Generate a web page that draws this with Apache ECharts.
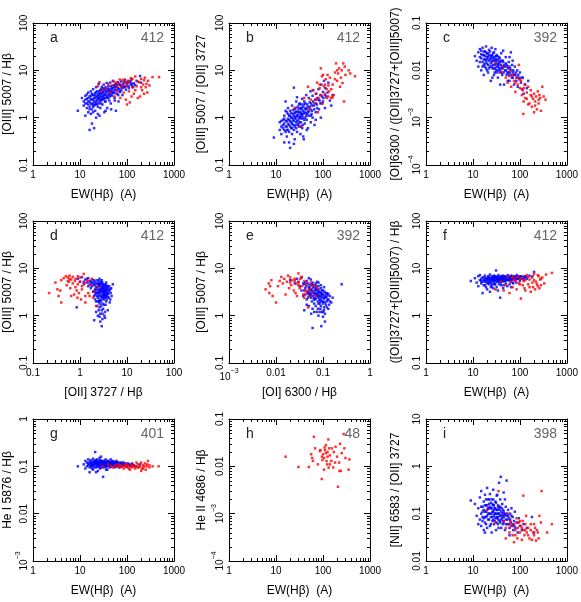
<!DOCTYPE html>
<html><head><meta charset="utf-8">
<script src="https://cdn.jsdelivr.net/npm/echarts@6/dist/echarts.min.js"></script>
<style>html,body{margin:0;padding:0;background:#fff}#c{width:581px;height:602px}</style>
</head><body><div id="c"></div>
<script>
// ---------- data (x, y) ----------
const aBlue=[[9,1.4],[11,2.6],[12,1.8],[12,2.2],[13,1.1],[13,2.9],[13,2.4],[14,1.6],[14,3.1],[14,2.0],[15,1.3],[15,2.6],[15,1.9],[15,3.4],[16,0.55],[16,2.2],[16,1.7],[17,2.9],[17,1.2],[17,3.6],[18,2.4],[18,1.5],[18,0.75],[19,3.0],[19,2.0],[19,4.0],[20,0.6],[20,2.6],[20,1.8],[21,3.3],[21,1.4],[22,2.2],[22,4.4],[22,2.9],[23,1.9],[23,3.6],[24,2.5],[24,1.2],[25,3.1],[25,5.2],[25,2.0],[26,2.7],[27,3.8],[27,1.6],[28,2.3],[28,3.2],[29,4.5],[30,2.8],[30,1.9],[31,3.5],[32,2.5],[32,5.0],[33,1.3],[34,3.0],[34,4.0],[35,2.2],[36,3.4],[37,5.4],[38,2.7],[38,1.6],[40,3.8],[40,4.6],[42,3.1],[42,2.3],[44,5.5],[45,3.6],[46,1.5],[48,4.2],[48,2.9],[50,3.3],[50,6.0],[52,4.8],[54,2.6],[55,3.9],[57,5.2],[58,1.4],[60,4.4],[62,3.2],[64,5.6],[66,2.2],[68,4.0],[70,4.9],[72,3.5],[75,5.8],[78,4.4],[80,3.0],[84,5.1],[88,4.6],[90,6.2],[95,3.9],[98,5.4],[100,4.8],[105,6.0],[110,4.2],[115,5.6],[120,5.0],[125,6.4],[130,4.6],[140,5.3],[150,4.9],[160,6.0],[190,7.6],[200,5.5],[45,2.0],[35,1.4],[26,1.1],[55,2.3],[65,3.0],[22,1.0],[19,1.3],
[13,2.0],[14,2.5],[15,2.2],[16,2.8],[16,1.5],[17,2.0],[17,2.5],[18,3.2],[18,1.9],[19,2.4],[19,1.7],[20,3.0],[20,2.2],[21,2.6],[21,1.9],[22,3.4],[22,2.0],[23,2.7],[23,2.3],[24,3.0],[24,1.7],[25,2.6],[25,3.6],[26,2.2],[26,3.3],[27,2.9],[27,2.4],[28,4.0],[28,2.0],[29,2.6],[29,3.4],[30,3.8],[30,2.4],[31,2.9],[31,4.2],[32,3.2],[33,2.6],[33,3.7],[34,2.2],[35,4.4],[35,3.0],[36,2.6],[37,3.6],[38,4.1],[39,3.0],[40,2.6],[41,3.4],[42,4.0],[43,2.8],[44,3.6],[45,4.6],[46,3.1],[47,4.0],[48,3.5],[50,4.2],[52,3.6],[53,4.6],[55,3.3],[56,4.4],[58,5.0],[60,3.8],[62,4.8],[65,4.2],[68,5.2],[70,3.6],[74,4.8],[76,3.9],[82,4.3],[86,5.6],[92,4.4],[100,5.4],[108,4.6],[118,5.8],[128,5.2],[135,4.4]];
const aRed=[[24,4.6],[26,5.6],[30,3.8],[35,4.2],[40,5.2],[45,3.4],[48,4.8],[52,5.8],[55,2.8],[60,4.6],[62,3.6],[65,5.2],[70,6.4],[72,2.6],[75,4.4],[80,5.0],[85,3.4],[90,6.4],[95,2.4],[98,4.6],[100,1.9],[105,5.4],[110,3.6],[120,6.8],[125,2.8],[130,4.4],[140,3.2],[150,7.4],[160,4.6],[170,2.6],[180,5.6],[200,6.6],[210,3.8],[220,5.0],[240,7.0],[250,4.4],[270,3.4],[280,6.0],[300,4.8],[350,7.2],[480,7.2],[230,6.2],[190,2.8],[115,2.1],[60,5.6],[80,6.2],[110,5.8],[130,6.6],[170,5.8],[200,4.4],[260,5.2],[230,3.2],[150,3.8],[95,5.6]];

const bBlue=[[9,0.38],[12,0.55],[12,0.8],[13,0.65],[13,0.45],[14,0.9],[14,0.6],[15,0.3],[15,0.75],[15,1.1],[16,0.5],[16,0.85],[16,2.2],[17,0.65],[17,1.3],[17,0.4],[18,0.95],[18,0.55],[18,1.6],[19,0.7],[19,1.1],[20,0.23],[20,0.85],[20,1.4],[21,0.6],[21,1.0],[22,0.45],[22,1.8],[22,0.75],[23,1.2],[23,0.9],[24,4.3],[24,0.55],[25,1.5],[25,1.0],[26,0.7],[26,1.3],[27,2.2],[27,0.8],[28,1.1],[28,0.5],[29,1.7],[30,0.9],[30,1.3],[31,0.65],[32,2.0],[32,1.0],[33,0.45],[34,1.5],[34,0.8],[35,1.2],[36,2.5],[36,0.6],[37,1.0],[38,1.7],[39,0.35],[40,1.3],[40,2.2],[41,0.75],[42,1.0],[43,1.6],[44,3.0],[45,0.9],[46,1.9],[47,1.3],[48,0.6],[50,2.6],[50,1.1],[52,1.7],[54,3.6],[55,0.8],[56,2.0],[58,1.4],[60,2.9],[60,1.0],[62,3.8],[64,1.8],[66,0.7],[68,2.4],[70,1.3],[72,3.2],[74,1.9],[76,2.6],[80,4.0],[82,1.5],[85,2.3],[88,3.0],[90,1.0],[92,5.0],[95,2.0],[100,3.5],[102,2.6],[105,6.0],[110,1.6],[112,4.2],[118,2.8],[125,3.4],[130,5.5],[140,2.3],[150,1.8],[160,3.0],[25,0.35],[19,0.3],[45,0.55],[70,0.9],[35,1.9],[28,2.7],[57,1.2],[16,1.4],[24,0.28],[38,0.4],
[13,0.85],[14,0.7],[15,0.55],[15,0.95],[16,0.65],[17,0.85],[17,0.55],[18,0.75],[18,1.2],[19,0.9],[19,0.5],[20,0.65],[20,1.1],[21,0.8],[21,1.25],[22,0.6],[22,1.0],[23,0.7],[23,1.45],[24,0.85],[24,1.1],[25,0.65],[25,1.25],[26,0.95],[26,1.6],[27,1.05],[27,0.6],[28,1.35],[28,0.85],[29,0.7],[29,1.15],[30,1.5],[30,0.75],[31,1.0],[31,1.9],[32,0.8],[32,1.3],[33,1.1],[33,1.6],[34,0.65],[34,1.25],[35,0.95],[35,1.6],[36,1.1],[37,1.4],[37,0.7],[38,1.2],[39,1.9],[40,0.9],[41,1.5],[42,1.25],[42,2.0],[44,1.1],[45,1.5],[46,1.2],[48,1.7],[50,1.35],[52,2.1],[54,1.5],[56,1.1],[58,1.8],[62,2.2],[65,1.5],[70,2.0],[75,1.6],[80,2.4],[88,2.0],[95,2.8],[100,2.2],[110,3.0]];
const bRed=[[25,1.6],[33,0.65],[40,2.6],[48,4.5],[50,1.5],[55,2.4],[60,3.8],[65,2.0],[70,3.2],[75,5.5],[78,1.3],[80,2.6],[85,4.2],[90,11],[92,3.0],[95,7.5],[98,2.0],[100,8.0],[105,4.6],[110,3.2],[115,6.5],[120,2.6],[125,8.0],[130,4.8],[135,3.6],[140,7.0],[150,2.6],[160,5.0],[170,3.0],[180,9.0],[190,14],[200,6.0],[210,8.6],[220,11],[230,4.5],[250,10],[270,14],[280,2.2],[290,12],[350,10],[380,8.6],[480,7.5],[260,5.4],[160,2.7],[70,2.4],[85,5.0],[110,5.0],[130,2.8],[150,4.0],[200,10],[240,7.0],[300,8.0],[120,4.0],[180,6.5]];

const cBlue=[[11,0.02],[12,0.016],[13,0.024],[13,0.012],[14,0.019],[14,0.028],[15,0.01],[15,0.022],[16,0.015],[16,0.03],[17,0.013],[17,0.021],[17,0.008],[18,0.025],[18,0.017],[19,0.011],[19,0.032],[20,0.019],[20,0.014],[21,0.023],[21,0.009],[22,0.016],[22,0.027],[23,0.012],[24,0.02],[24,0.006],[25,0.015],[25,0.03],[26,0.011],[27,0.018],[28,0.024],[28,0.008],[29,0.013],[30,0.017],[31,0.01],[32,0.021],[33,0.014],[34,0.007],[35,0.012],[36,0.019],[37,0.009],[38,0.015],[40,0.011],[40,0.023],[42,0.008],[43,0.016],[45,0.012],[46,0.005],[48,0.01],[50,0.014],[50,0.019],[52,0.008],[54,0.012],[56,0.009],[58,0.015],[60,0.006],[62,0.011],[64,0.024],[66,0.008],[68,0.013],[70,0.007],[72,0.01],[75,0.005],[78,0.012],[80,0.008],[84,0.006],[88,0.01],[90,0.0045],[95,0.007],[100,0.009],[105,0.0055],[110,0.004],[115,0.007],[120,0.0032],[130,0.005],[140,0.0042],[150,0.006],[44,0.026],[33,0.02],[26,0.007],[55,0.006],[38,0.005],[20,0.01],[30,0.028],[70,0.016],[18,0.012],[60,0.019],
[14,0.015],[15,0.018],[15,0.026],[16,0.021],[16,0.012],[17,0.017],[17,0.025],[18,0.014],[18,0.02],[19,0.016],[19,0.024],[20,0.022],[20,0.017],[21,0.013],[21,0.019],[22,0.021],[22,0.011],[23,0.017],[23,0.025],[24,0.014],[24,0.018],[25,0.012],[25,0.021],[26,0.016],[26,0.02],[27,0.013],[27,0.023],[28,0.011],[28,0.016],[29,0.019],[29,0.009],[30,0.014],[30,0.011],[31,0.016],[31,0.02],[32,0.012],[32,0.009],[33,0.017],[34,0.013],[34,0.01],[35,0.016],[36,0.011],[36,0.014],[37,0.018],[38,0.01],[39,0.013],[40,0.016],[41,0.009],[42,0.012],[43,0.011],[44,0.015],[45,0.009],[46,0.013],[48,0.012],[50,0.01],[52,0.013],[54,0.009],[56,0.011],[58,0.008],[60,0.012],[62,0.009],[65,0.01],[68,0.007],[72,0.009],[76,0.008],[82,0.009],[86,0.007],[92,0.008],[98,0.0065],[108,0.007]];
const cRed=[[30,0.014],[40,0.009],[45,0.012],[50,0.007],[55,0.0055],[60,0.01],[65,0.0045],[70,0.008],[75,0.006],[80,0.0035],[85,0.007],[90,0.005],[95,0.013],[100,0.0042],[105,0.006],[110,0.003],[115,0.0038],[118,0.0012],[125,0.005],[130,0.0026],[140,0.0034],[150,0.0045],[160,0.002],[170,0.003],[180,0.0017],[190,0.0025],[200,0.0032],[210,0.0022],[220,0.0028],[230,0.0015],[240,0.0036],[250,0.002],[270,0.0026],[280,0.0014],[300,0.0045],[350,0.0024],[200,0.0013],[150,0.0019],[260,0.003],[120,0.0022],[60,0.0075],[80,0.0055],[100,0.0065],[120,0.0042],[140,0.0025],[170,0.0038],[210,0.0018],[250,0.0024],[320,0.0028],[180,0.0028]];

const dBlue=[[0.85,1.5],[0.9,6.0],[1.0,5.2],[1.1,6.5],[1.2,4.6],[1.3,5.8],[1.4,5.0],[1.5,4.2],[1.5,6.2],[1.6,5.4],[1.7,3.8],[1.8,4.8],[1.8,5.8],[1.9,3.2],[2.0,4.4],[2.0,2.6],[2.0,0.8],[2.1,5.2],[2.1,3.6],[2.2,2.0],[2.2,4.0],[2.3,3.0],[2.3,1.6],[2.4,4.6],[2.4,2.4],[2.5,3.4],[2.5,1.3],[2.5,5.4],[2.6,2.8],[2.6,4.2],[2.7,2.0],[2.7,3.6],[2.7,1.1],[2.8,4.8],[2.8,2.5],[2.9,3.2],[2.9,0.6],[3.0,3.9],[3.0,1.8],[3.0,2.7],[3.1,4.4],[3.1,1.4],[3.2,3.0],[3.2,2.2],[3.3,3.7],[3.3,1.0],[3.4,2.6],[3.4,4.6],[3.5,3.2],[3.5,1.7],[3.6,2.0],[3.7,3.8],[3.8,2.8],[3.9,1.3],[4.0,3.4],[4.1,2.4],[4.2,4.2],[4.3,1.9],[4.5,3.0],[4.7,2.6],[5.0,4.6],[4.6,3.8],[3.6,5.0],[2.6,6.0],[2.9,5.6],[2.4,3.0],[2.8,3.7],[3.2,3.4],[3.0,0.85],[2.2,1.2],[2.6,1.5],[3.5,2.4],[2.3,4.8],[1.9,5.0],[3.9,3.0],[2.1,2.8],[2.7,4.4],[3.1,2.9],[2.5,2.0],[3.4,1.2],[4.4,2.2],[1.6,4.6],[2.0,3.3],[3.8,4.2],[2.4,1.0],
[2.2,3.4],[2.3,4.0],[2.4,3.6],[2.5,4.2],[2.5,2.6],[2.6,3.2],[2.6,2.2],[2.7,3.0],[2.7,4.8],[2.8,3.3],[2.8,2.1],[2.9,4.0],[2.9,2.6],[3.0,3.4],[3.0,2.3],[3.0,4.6],[3.1,3.6],[3.1,2.5],[3.2,4.0],[3.2,2.7],[3.2,1.7],[3.3,3.2],[3.3,2.4],[3.4,3.5],[3.4,2.9],[3.5,4.0],[3.5,2.7],[3.6,3.4],[3.6,2.6],[3.7,3.0],[3.7,2.2],[3.8,3.6],[3.9,2.5],[4.0,3.9],[4.0,2.9],[4.2,3.3],[4.4,3.6],[2.4,2.0],[2.6,1.8],[2.8,1.6],[2.9,1.3],[3.0,1.1],[2.6,0.95],[2.7,0.75],[3.4,0.9],[2.3,2.6],[2.1,4.6],[2.0,5.6],[1.8,4.2],[1.7,5.2],[2.3,5.6],[2.5,4.8],[3.0,5.0],[3.3,4.4],[2.8,5.2],[3.6,4.4],[1.4,6.0],[1.2,5.2],[2.2,3.0],[2.1,2.2]];
const dRed=[[0.22,3.0],[0.3,5.0],[0.33,3.6],[0.38,3.4],[0.4,1.9],[0.4,5.6],[0.45,6.2],[0.5,6.8],[0.52,4.4],[0.55,6.4],[0.58,5.2],[0.6,7.0],[0.62,3.8],[0.65,5.8],[0.7,4.8],[0.7,6.6],[0.75,2.8],[0.78,5.4],[0.8,6.0],[0.85,3.4],[0.88,2.4],[0.9,4.6],[0.95,3.0],[1.0,6.4],[1.05,2.2],[1.1,3.6],[1.2,7.6],[1.25,4.8],[1.3,2.6],[1.4,5.6],[1.5,3.0],[1.6,2.6],[1.7,4.4],[1.8,6.0],[2.0,3.2],[2.2,1.6],[2.4,4.0],[1.3,1.9],[0.65,2.6],[1.0,5.2],[0.35,2.6],[0.6,6.0],[0.9,6.8],[1.1,4.2],[1.5,5.2],[1.9,2.4],[0.55,5.4],[0.8,4.0]];

const eBlue=[[0.02,5.6],[0.025,4.8],[0.028,6.0],[0.03,5.2],[0.032,4.2],[0.035,3.4],[0.035,6.4],[0.038,2.6],[0.04,4.6],[0.04,1.3],[0.042,3.8],[0.045,5.4],[0.045,2.2],[0.048,3.0],[0.05,4.0],[0.05,1.6],[0.052,2.6],[0.055,3.4],[0.055,5.8],[0.058,2.0],[0.06,4.4],[0.06,0.55],[0.062,3.0],[0.065,2.4],[0.065,1.2],[0.068,3.8],[0.07,4.8],[0.07,1.6],[0.072,2.8],[0.075,3.4],[0.078,2.0],[0.08,4.2],[0.08,1.0],[0.082,2.6],[0.085,3.2],[0.088,1.4],[0.09,2.2],[0.09,3.8],[0.092,0.6],[0.095,2.8],[0.1,3.4],[0.1,1.2],[0.102,2.0],[0.105,4.0],[0.11,2.6],[0.11,0.75],[0.115,1.7],[0.12,3.0],[0.125,2.2],[0.13,1.4],[0.14,2.6],[0.15,1.9],[0.16,2.4],[0.25,4.6],[0.075,5.2],[0.058,4.6],[0.085,1.8],[0.095,1.2],[0.052,3.8],[0.068,2.2],[0.06,1.4],[0.045,1.7],[0.118,2.5],[0.105,1.5],[0.038,4.8],[0.074,1.2],[0.088,3.0],[0.048,2.4],[0.13,2.9],[0.066,3.3],[0.08,2.4],[0.056,1.1],[0.1,2.4],[0.05,6.2],[0.042,5.0],
[0.04,3.4],[0.042,2.8],[0.044,4.2],[0.046,3.2],[0.048,4.8],[0.05,2.9],[0.052,4.4],[0.054,3.0],[0.056,2.4],[0.058,3.6],[0.06,2.6],[0.06,3.3],[0.062,4.0],[0.064,2.2],[0.066,2.8],[0.068,3.0],[0.07,3.6],[0.07,2.3],[0.072,4.2],[0.074,2.6],[0.076,3.0],[0.078,2.8],[0.08,3.6],[0.08,1.8],[0.082,3.2],[0.084,2.2],[0.086,2.6],[0.088,2.0],[0.09,3.0],[0.09,1.6],[0.092,2.5],[0.095,3.4],[0.095,2.0],[0.098,2.7],[0.1,1.8],[0.1,2.9],[0.105,2.3],[0.108,3.2],[0.11,1.9],[0.112,2.4],[0.115,2.9],[0.12,2.0],[0.12,1.5],[0.125,2.7],[0.13,2.2],[0.135,1.7],[0.14,2.0],[0.085,1.2],[0.078,1.4],[0.1,0.95],[0.065,1.8],[0.055,2.8],[0.05,3.4],[0.06,5.0],[0.066,4.4],[0.072,3.6],[0.08,5.0],[0.09,4.4],[0.105,1.3],[0.11,1.1]];
const eRed=[[0.006,3.6],[0.007,4.8],[0.0072,3.0],[0.0075,4.2],[0.008,5.6],[0.0085,2.6],[0.01,1.9],[0.012,5.4],[0.013,6.6],[0.014,4.8],[0.015,6.0],[0.016,2.8],[0.017,5.2],[0.018,7.0],[0.019,3.8],[0.02,6.4],[0.021,4.4],[0.022,5.6],[0.024,3.4],[0.025,6.0],[0.027,4.8],[0.028,2.6],[0.03,7.8],[0.03,5.0],[0.032,3.8],[0.035,6.6],[0.036,4.2],[0.038,2.8],[0.04,5.4],[0.042,3.4],[0.045,4.6],[0.048,1.5],[0.05,3.6],[0.055,5.0],[0.06,3.2],[0.065,4.4],[0.07,2.6],[0.075,3.8],[0.05,2.6],[0.026,3.0],[0.011,4.2],[0.02,5.0],[0.03,4.4],[0.033,6.0],[0.045,3.0],[0.058,4.2],[0.04,2.4],[0.025,5.4]];

const fBlue=[[9,5.4],[11,6.2],[12,5.0],[13,6.8],[13,4.2],[14,5.6],[14,7.2],[15,4.8],[15,6.0],[16,5.2],[16,3.0],[17,6.4],[17,4.4],[18,5.8],[18,7.0],[19,4.0],[19,5.4],[20,6.2],[20,3.6],[21,5.0],[21,6.8],[22,4.6],[22,5.8],[23,7.4],[23,3.2],[24,5.2],[25,6.4],[25,4.2],[26,5.6],[27,6.0],[27,3.8],[28,5.0],[28,7.0],[29,4.6],[30,6.2],[30,5.4],[31,9.0],[32,4.0],[32,6.6],[33,5.8],[34,3.4],[35,5.2],[35,7.2],[36,4.6],[37,6.0],[38,2.4],[38,5.6],[40,6.6],[40,4.4],[42,5.2],[43,7.0],[44,3.8],[45,6.2],[46,5.4],[48,6.8],[50,4.8],[50,5.8],[52,6.4],[54,4.2],[55,7.2],[57,5.6],[58,6.0],[60,4.6],[62,6.6],[64,5.2],[66,7.0],[68,5.8],[70,6.2],[72,4.8],[75,6.8],[78,5.6],[80,6.4],[84,5.0],[86,7.2],[90,6.0],[95,6.6],[100,5.4],[105,6.8],[110,6.2],[120,5.8],[130,6.6],[140,6.0],[160,7.0],[200,8.4],[185,6.8],[26,6.8],[18,4.4],[45,4.4],[34,6.6],[65,4.0],[24,4.0],[29,6.6],[41,5.8],[70,5.0],
[15,5.4],[16,6.4],[17,5.6],[18,5.2],[19,6.2],[20,5.6],[20,4.8],[21,6.0],[22,5.2],[22,6.6],[23,5.8],[24,6.2],[24,4.8],[25,5.6],[26,6.2],[26,4.6],[27,5.4],[28,6.2],[29,5.6],[30,4.6],[30,6.8],[31,5.8],[32,5.2],[33,6.4],[34,5.6],[35,6.0],[36,5.4],[37,6.6],[38,6.2],[39,5.0],[40,5.8],[41,6.8],[42,6.2],[44,5.6],[45,6.8],[46,6.0],[48,5.4],[50,6.4],[52,5.6],[54,6.6],[55,5.8],[58,6.6],[60,5.6],[62,6.0],[64,6.8],[66,5.8],[70,6.6],[72,6.0],[76,6.4],[80,5.8],[84,6.8],[88,6.0],[92,6.6],[96,6.2],[100,6.8],[105,6.0],[112,6.6],[118,6.2],[125,6.8],[135,6.4]];
const fRed=[[30,3.6],[40,5.2],[45,3.4],[50,4.4],[55,6.6],[60,3.0],[65,5.2],[70,4.0],[75,6.0],[80,5.4],[85,3.6],[90,6.6],[95,4.8],[100,5.8],[105,2.3],[110,6.2],[115,4.4],[120,5.4],[130,3.4],[140,7.2],[150,4.6],[160,5.8],[170,3.2],[180,6.4],[190,4.0],[200,7.6],[210,3.6],[220,5.2],[230,4.6],[250,6.8],[260,3.8],[270,5.8],[280,4.4],[300,6.4],[360,7.4],[480,8.0],[240,7.2],[150,6.6],[125,3.8],[185,5.0],[70,6.6],[100,4.6],[130,5.6],[160,4.0],[200,5.6],[240,4.2],[280,6.0],[330,4.8]];

const gBlue=[[9,0.1],[12,0.11],[13,0.13],[13,0.09],[14,0.12],[14,0.1],[15,0.14],[15,0.115],[16,0.095],[16,0.125],[16,0.075],[17,0.11],[17,0.135],[18,0.1],[18,0.12],[19,0.085],[19,0.145],[20,0.115],[20,0.105],[21,0.2],[21,0.13],[22,0.095],[22,0.12],[23,0.11],[23,0.14],[24,0.1],[24,0.08],[25,0.125],[25,0.115],[26,0.105],[27,0.135],[27,0.09],[28,0.12],[28,0.11],[29,0.1],[30,0.13],[30,0.115],[31,0.06],[32,0.105],[32,0.125],[33,0.095],[34,0.12],[35,0.11],[35,0.14],[36,0.1],[37,0.125],[38,0.085],[38,0.115],[40,0.105],[40,0.13],[42,0.12],[43,0.095],[44,0.11],[45,0.125],[46,0.1],[48,0.115],[50,0.105],[50,0.13],[52,0.12],[54,0.095],[55,0.11],[57,0.125],[58,0.1],[60,0.115],[62,0.105],[64,0.12],[66,0.11],[68,0.095],[70,0.12],[72,0.105],[75,0.115],[78,0.1],[80,0.11],[85,0.12],[90,0.105],[95,0.115],[100,0.1],[110,0.11],[120,0.105],[130,0.115],[150,0.1],[190,0.11],[18,0.09],[26,0.15],[45,0.14],[22,0.075],[36,0.085],[60,0.13],[28,0.16],[17,0.1],
[15,0.105],[16,0.11],[17,0.12],[18,0.11],[19,0.125],[19,0.105],[20,0.13],[20,0.095],[21,0.115],[22,0.11],[22,0.135],[23,0.1],[23,0.125],[24,0.115],[24,0.13],[25,0.105],[26,0.12],[26,0.095],[27,0.115],[28,0.1],[28,0.13],[29,0.12],[30,0.105],[30,0.095],[31,0.12],[32,0.115],[33,0.13],[34,0.105],[35,0.1],[36,0.12],[37,0.11],[38,0.13],[39,0.1],[40,0.115],[41,0.125],[42,0.105],[44,0.12],[45,0.1],[46,0.115],[48,0.125],[50,0.11],[52,0.105],[54,0.12],[56,0.115],[58,0.11],[60,0.1],[63,0.12],[66,0.105],[70,0.11],[74,0.1],[78,0.12],[82,0.105],[88,0.11],[94,0.1],[105,0.115],[115,0.1],[125,0.11],[140,0.105]];
const gRed=[[30,0.1],[40,0.11],[50,0.095],[55,0.105],[60,0.1],[65,0.11],[70,0.095],[75,0.105],[80,0.1],[85,0.09],[90,0.11],[95,0.1],[100,0.095],[105,0.105],[110,0.09],[120,0.1],[125,0.11],[130,0.095],[140,0.105],[150,0.09],[160,0.1],[170,0.11],[180,0.095],[190,0.1],[200,0.12],[210,0.09],[220,0.105],[230,0.1],[250,0.085],[270,0.11],[280,0.13],[300,0.095],[470,0.1],[240,0.115],[115,0.085],[160,0.12],[350,0.1],[200,0.08],[45,0.1],[70,0.105],[100,0.11],[130,0.1],[170,0.095],[220,0.09],[260,0.1],[300,0.105]];

const hBlue=[];
const hRed=[[16,0.016],[30,0.0097],[50,0.0097],[64,0.042],[68,0.024],[56,0.018],[59,0.015],[61,0.013],[78,0.011],[86,0.021],[94,0.0054],[88,0.022],[97,0.0136],[100,0.018],[105,0.0085],[108,0.025],[115,0.019],[119,0.013],[125,0.016],[132,0.0094],[135,0.024],[130,0.037],[122,0.011],[140,0.011],[155,0.024],[165,0.0095],[180,0.012],[185,0.026],[208,0.0037],[220,0.012],[225,0.008],[230,0.03],[240,0.008],[250,0.019],[275,0.048],[285,0.024],[300,0.015],[350,0.0085],[365,0.014],[105,0.015],[125,0.02],[140,0.017],[95,0.016],[170,0.02],[115,0.028],[200,0.016],[150,0.013],[110,0.022]];

const iBlue=[[9,0.19],[11,0.16],[12,0.09],[13,0.06],[13,0.13],[14,0.22],[14,0.075],[15,0.1],[15,0.3],[15,0.055],[16,0.14],[16,0.07],[17,0.18],[17,0.045],[18,0.11],[18,0.25],[18,0.065],[19,0.15],[19,0.085],[20,0.35],[20,0.12],[20,0.05],[21,0.2],[21,0.075],[22,0.1],[22,0.16],[23,0.055],[23,0.26],[24,0.13],[24,0.085],[25,0.2],[25,0.04],[26,0.11],[26,0.07],[27,0.15],[27,0.32],[28,0.09],[28,0.06],[29,0.13],[30,0.18],[30,0.1],[31,0.045],[32,0.12],[32,0.24],[33,0.08],[34,0.15],[34,0.06],[35,0.1],[36,0.45],[36,0.13],[37,0.07],[38,0.2],[38,0.09],[39,0.6],[40,0.11],[40,0.05],[42,0.16],[42,0.08],[44,0.12],[45,0.28],[45,0.065],[47,0.1],[48,0.045],[50,0.14],[50,0.075],[52,0.5],[53,0.09],[55,0.06],[56,0.12],[58,0.08],[60,0.05],[62,0.1],[64,0.065],[66,0.13],[68,0.055],[70,0.085],[72,0.045],[75,0.07],[78,0.11],[80,0.05],[85,0.065],[90,0.04],[95,0.08],[100,0.055],[110,0.045],[120,0.06],[140,0.05],[180,0.085],[200,0.04],[16,0.085],[22,0.13],[29,0.07],[35,0.05],[44,0.09],[27,0.11],[19,0.06],[33,0.25],[60,0.035],[48,0.2],[18,0.04],
[15,0.14],[16,0.11],[17,0.08],[17,0.12],[18,0.085],[18,0.15],[19,0.11],[19,0.2],[20,0.09],[20,0.15],[21,0.13],[21,0.1],[22,0.075],[22,0.2],[23,0.1],[23,0.14],[24,0.17],[24,0.06],[25,0.1],[25,0.13],[26,0.085],[26,0.16],[27,0.075],[27,0.2],[28,0.12],[28,0.15],[29,0.1],[30,0.08],[30,0.13],[31,0.1],[31,0.17],[32,0.085],[32,0.065],[33,0.12],[34,0.1],[34,0.085],[35,0.14],[35,0.075],[36,0.1],[37,0.12],[38,0.065],[38,0.14],[39,0.09],[40,0.075],[41,0.13],[42,0.1],[43,0.06],[44,0.07],[45,0.11],[46,0.085],[48,0.095],[50,0.06],[52,0.1],[54,0.075],[56,0.09],[58,0.06],[62,0.075],[66,0.09],[70,0.06],[76,0.055]];
const iRed=[[20,0.12],[30,0.065],[35,0.3],[45,0.07],[50,0.05],[55,0.1],[60,0.04],[62,0.07],[65,0.055],[70,0.035],[75,0.06],[80,0.045],[85,0.08],[88,0.03],[90,0.05],[95,0.065],[100,0.04],[105,0.055],[110,0.028],[115,0.07],[118,0.24],[120,0.045],[125,0.035],[130,0.06],[135,0.09],[140,0.04],[150,0.05],[160,0.03],[170,0.06],[180,0.028],[190,0.04],[200,0.035],[210,0.05],[220,0.027],[230,0.045],[240,0.04],[260,0.09],[280,0.065],[290,0.3],[380,0.04],[480,0.06],[75,0.025],[50,0.03],[60,0.06],[80,0.035],[100,0.07],[130,0.045],[150,0.035],[170,0.045],[200,0.06],[250,0.03],[110,0.05],[90,0.065]];

const panelLetters=['a','b','c','d','e','f','g','h','i'];
const panelCounts=['412','412','392','412','392','412','401','48','398'];
const xNames=['EW(Hβ)  (A)','EW(Hβ)  (A)','EW(Hβ)  (A)','[OII] 3727 / Hβ','[OI] 6300 / Hβ','EW(Hβ)  (A)','EW(Hβ)  (A)','EW(Hβ)  (A)','EW(Hβ)  (A)'];
const yNames=['[OIII] 5007 / Hβ','[OIII] 5007 / [OII] 3727','[OI]6300 / ([OII]3727+[OIII]5007)','[OIII] 5007 / Hβ','[OIII] 5007 / Hβ','([OII]3727+[OIII]5007) / Hβ','He I 5876 / Hβ','He II 4686 / Hβ','[NII] 6583 / [OII] 3727'];
const xRanges=[[1,1000],[1,1000],[1,1000],[0.1,100],[0.001,1],[1,1000],[1,1000],[1,1000],[1,1000]];
const yRanges=[[0.1,100],[0.1,100],[0.0001,0.1],[0.1,100],[0.1,100],[0.1,100],[0.001,1],[0.0001,0.1],[0.01,10]];
const blueSets=[aBlue,bBlue,cBlue,dBlue,eBlue,fBlue,gBlue,hBlue,iBlue];
const redSets=[aRed,bRed,cRed,dRed,eRed,fRed,gRed,hRed,iRed];
const MINOR_STEPS=[2,3,4,5,6,7,8,9];

// ---------- layout ----------
const FONT='"Liberation Sans", Arial, Helvetica, sans-serif';
const colLeft=[33,229,426], rowTop=[23,221,419], W=141, H=142;
const yNameGap=[19,21,24];

function minorValues(r){
  const out=[]; const e0=Math.round(Math.log10(r[0])), e1=Math.round(Math.log10(r[1]));
  for(let e=e0;e<e1;e++){ for(const k of MINOR_STEPS){ out.push(+(k*Math.pow(10,e)).toPrecision(3)); } }
  return out;
}
function tickFmt(v){
  const e=Math.round(Math.log10(v));
  if(e<=-3) return '{b|10}{s|−'+(-e)+'}';
  if(e<0) return Math.pow(10,e).toFixed(-e);
  return String(Math.round(Math.pow(10,e)));
}
const richLbl={b:{fontSize:10,fontFamily:FONT,color:'#000',lineHeight:14,verticalAlign:'bottom'},s:{fontSize:7,fontFamily:FONT,color:'#000',lineHeight:14,verticalAlign:'top'}};

const grids=[],xAxes=[],yAxes=[],series=[],graphics=[];
for(let i=0;i<9;i++){
  const c=i%3, r=Math.floor(i/3), L=colLeft[c], T=rowTop[r];
  grids.push({left:L,top:T,width:W,height:H,containLabel:false});
  const common={type:'log',logBase:10,gridIndex:i,splitLine:{show:false},
    axisLine:{show:true,lineStyle:{color:'#000',width:1}},
    axisTick:{show:true,inside:true,length:6,lineStyle:{color:'#000',width:1}}};
  xAxes.push(Object.assign({},common,{min:xRanges[i][0],max:xRanges[i][1],position:'bottom',
    axisLabel:{show:true,formatter:tickFmt,fontSize:10,fontFamily:FONT,color:'#000',margin:5,rich:richLbl},
    name:xNames[i],nameLocation:'middle',nameGap:24,nameTextStyle:{fontSize:12,fontFamily:FONT,color:'#000'}}));
  xAxes.push(Object.assign({},common,{min:xRanges[i][0],max:xRanges[i][1],position:'top',axisLabel:{show:false}}));
  yAxes.push(Object.assign({},common,{min:yRanges[i][0],max:yRanges[i][1],position:'left',
    axisLabel:{show:true,rotate:90,formatter:tickFmt,fontSize:10,fontFamily:FONT,color:'#000',margin:4,rich:richLbl},
    name:yNames[i],nameLocation:'middle',nameGap:yNameGap[c],nameTextStyle:{fontSize:12,fontFamily:FONT,color:'#000'}}));
  yAxes.push(Object.assign({},common,{min:yRanges[i][0],max:yRanges[i][1],position:'right',axisLabel:{show:false}}));
  const xi=2*i, yi=2*i;
  series.push({type:'custom',xAxisIndex:xi,yAxisIndex:yi,silent:true,clip:false,z:5,
    data:minorValues(xRanges[i]).map(v=>[v,yRanges[i][0]]),
    renderItem:(params,api)=>{const p=api.coord([api.value(0),api.value(1)]);const cs=params.coordSys;const x=Math.round(p[0])+0.5;
      return {type:'group',children:[
        {type:'line',shape:{x1:x,y1:cs.y+cs.height,x2:x,y2:cs.y+cs.height-3},style:{stroke:'#000',lineWidth:1}},
        {type:'line',shape:{x1:x,y1:cs.y,x2:x,y2:cs.y+3},style:{stroke:'#000',lineWidth:1}}]};}});
  series.push({type:'custom',xAxisIndex:xi,yAxisIndex:yi,silent:true,clip:false,z:5,
    data:minorValues(yRanges[i]).map(v=>[xRanges[i][0],v]),
    renderItem:(params,api)=>{const p=api.coord([api.value(0),api.value(1)]);const cs=params.coordSys;const y=Math.round(p[1])+0.5;
      return {type:'group',children:[
        {type:'line',shape:{x1:cs.x,y1:y,x2:cs.x+3,y2:y},style:{stroke:'#000',lineWidth:1}},
        {type:'line',shape:{x1:cs.x+cs.width,y1:y,x2:cs.x+cs.width-3,y2:y},style:{stroke:'#000',lineWidth:1}}]};}});
  series.push({type:'scatter',xAxisIndex:xi,yAxisIndex:yi,data:blueSets[i],symbol:'rect',symbolSize:2.5,
    itemStyle:{color:'#0000ff'},silent:true,z:2});
  series.push({type:'scatter',xAxisIndex:xi,yAxisIndex:yi,data:redSets[i],symbol:'rect',symbolSize:2.5,
    itemStyle:{color:'#ff0000'},silent:true,z:3});
  graphics.push({type:'text',x:L+17,y:T+15,style:{text:panelLetters[i],font:'14px '+FONT,fill:'#222',verticalAlign:'middle'}});
  graphics.push({type:'text',x:L+W-10,y:T+15,style:{text:panelCounts[i],font:'14px '+FONT,fill:'#666',align:'right',verticalAlign:'middle'}});
}

const chart=echarts.init(document.getElementById('c'),null,{renderer:'canvas'});
chart.setOption({animation:false,backgroundColor:'#fff',textStyle:{fontFamily:FONT},
  grid:grids,xAxis:xAxes,yAxis:yAxes,series:series,graphic:graphics});
</script></body></html>
